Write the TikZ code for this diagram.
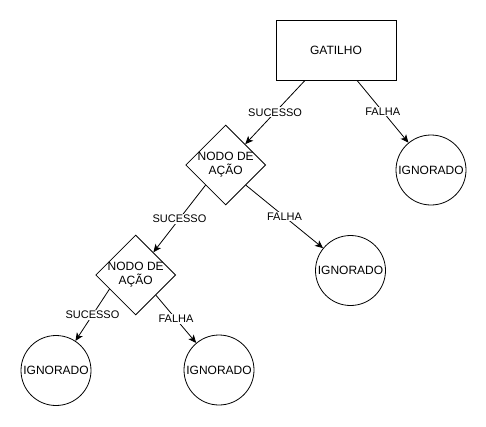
\documentclass[tikz,border=0pt]{standalone}
\usepackage{fontspec}
\setmainfont{Liberation Sans}
\usetikzlibrary{shapes.geometric,arrows.meta,calc}
\begin{document}
\begin{tikzpicture}[x=1pt,y=-1pt,
  box/.style={draw,line width=0.8pt,minimum width=120pt,minimum height=60pt,inner sep=0pt,font=\fontsize{12}{14}\selectfont},
  circ/.style={draw,circle,line width=0.8pt,minimum size=70pt,inner sep=0pt,font=\fontsize{12}{14}\selectfont},
  dia/.style={draw,diamond,line width=0.8pt,minimum width=80pt,minimum height=80pt,inner sep=0pt},
  diatext/.style={align=center,font=\fontsize{12}{14}\selectfont},
  conn/.style={line width=0.8pt,-{Stealth[length=8pt,width=7pt,inset=2pt]}},
  lbl/.style={fill=white,inner sep=1pt,font=\fontsize{11}{13}\selectfont}]
\useasboundingbox (0,0) rectangle (486,426);
\node[box] (g) at (336,50) {GATILHO};
\node[circ] (c1) at (431,170) {IGNORADO};
\node[dia] (d1) at (225.7,165) {};
\node[diatext] (t1) at (225.7,165) {NODO DE\\AÇÃO};
\node[circ] (c2) at (350.5,270.5) {IGNORADO};
\node[dia] (d2) at (135.7,275) {};
\node[diatext] (t2) at (135.7,275) {NODO DE\\AÇÃO};
\node[circ] (c3) at (56,370.5) {IGNORADO};
\node[circ] (c4) at (219,370) {IGNORADO};
\coordinate (s1) at ([xshift=-31pt]g.south);
\coordinate (s2) at ([xshift=21pt]g.south);
\coordinate (s3) at ($(d1.west)!0.5!(d1.south)$);
\coordinate (s4) at ($(d1.south)!0.5!(d1.east)$);
\coordinate (s5) at ($(d2.west)!0.35!(d2.south)$);
\coordinate (s6) at ($(d2.south)!0.5!(d2.east)$);
\draw[conn] (s1) -- node[lbl] {SUCESSO} (d1);
\draw[conn] (s2) -- node[lbl] {FALHA} (c1);
\draw[conn] (s3) -- node[lbl] {SUCESSO} (d2);
\draw[conn] (s4) -- node[lbl] {FALHA} (c2);
\draw[conn] (s5) -- node[lbl] {SUCESSO} (c3);
\draw[conn] (s6) -- node[lbl] {FALHA} (c4);
\end{tikzpicture}
\end{document}
